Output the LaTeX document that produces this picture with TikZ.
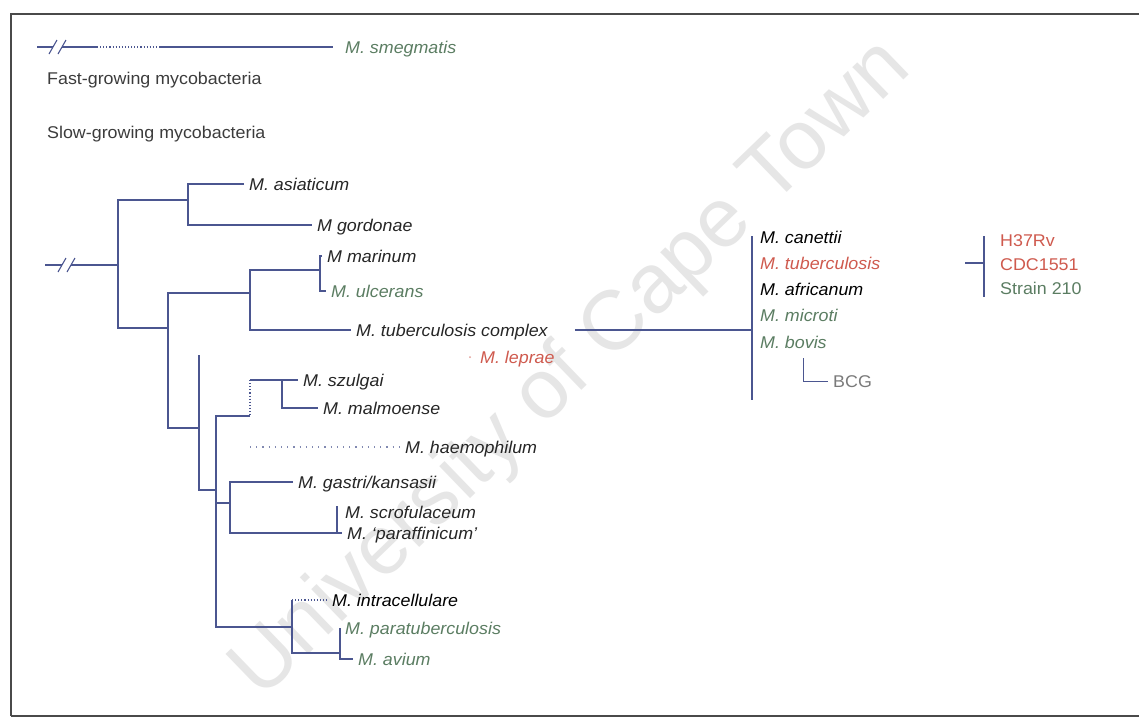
\documentclass[tikz,border=0pt]{standalone}
\usepackage{fontspec}
\setmainfont{Liberation Sans}[FakeStretch=1.05]
\newfontfamily\wmfont{Liberation Sans}
\definecolor{brc}{HTML}{4B5690}
\definecolor{ink}{HTML}{262626}
\definecolor{grn}{HTML}{5B7D62}
\definecolor{rd}{HTML}{CF5A4E}
\definecolor{frm}{HTML}{4A4A4A}
\definecolor{wmc}{HTML}{E6E6E6}
\definecolor{bcgc}{HTML}{7A7A7A}
\begin{document}
\begin{tikzpicture}[x=1pt,y=-1pt,
  br/.style={draw=brc, line width=1.3pt},
  dotln/.style={draw=brc, line width=1.1pt, dotted},
  sparse/.style={draw=brc!70, line width=1.1pt, dash pattern=on 1.2pt off 5pt},
  brk/.style={draw=brc, line width=1.1pt},
  sp/.style={anchor=west, inner xsep=5pt, inner ysep=0pt, text height=12pt, text depth=0pt,
             font=\fontsize{17}{20}\selectfont\itshape, text=ink},
  hd/.style={sp, font=\fontsize{17}{20}\selectfont, text=ink!90},
  up/.style={sp, font=\fontsize{17}{20}\selectfont},
  gr/.style={text=grn}, rdt/.style={text=rd}, bk/.style={text=black}]

\useasboundingbox (0,0) rectangle (1139,718);
\fill[white] (0,0) rectangle (1139,718);

% watermark
\node[rotate=44, text=wmc, font=\wmfont\fontsize{84}{94}\selectfont, inner sep=0pt] (wm) at (572,370) {University of Cape Town};

% frame
\draw[frm, line width=1.5pt] (11,716) -- (11,14) -- (1139,14);
\draw[frm, line width=1.2pt] (11,716) -- (1139,716);

% fast-growing
\node[sp,gr] (smeg) at (340,47) {M. smegmatis};
\coordinate (s0) at (37,47);
\coordinate (s1) at (53,47);
\coordinate (s2) at (62,47);
\coordinate (s3) at (97,47);
\coordinate (s4) at (160,47);
\draw[br] (s0) -- (s1);
\draw[brk] ([shift={(-4,7)}]s1) -- ([shift={(4,-7)}]s1);
\draw[brk] ([shift={(-4,7)}]s2) -- ([shift={(4,-7)}]s2);
\draw[br] (s2) -- (s3);
\draw[dotln] (s3) -- (s4);
\draw[br, shorten >=7pt] (s4) -- (smeg.west);

\node[hd] (fast) at (42,78) {Fast-growing mycobacteria};
\node[hd] (slow) at (42,132) {Slow-growing mycobacteria};

% tree coordinates
\coordinate (r0) at (45,265);
\coordinate (r1) at (62,265);
\coordinate (r2) at (71,265);
\coordinate (rJ) at (118,265);
\coordinate (aJ) at (188,200);
\coordinate (bJ) at (168,328);
\coordinate (cJ) at (250,293);
\coordinate (eJ) at (320,270);
\coordinate (dJ) at (199,428);
\coordinate (dTop) at (199,355);
\coordinate (fJ) at (216,490);
\coordinate (gJ) at (250,416);
\coordinate (gT) at (250,380);
\coordinate (hJ) at (282,380);
\coordinate (iJ) at (230,503);
\coordinate (jT) at (337,506);
\coordinate (kJ) at (292,627);
\coordinate (kT) at (292,600);
\coordinate (lJ) at (340,653);
\coordinate (hm0) at (250,447);

% species nodes
\node[sp] (asi) at (244,184) {M. asiaticum};
\node[sp] (gor) at (312,225) {M gordonae};
\node[sp] (mar) at (322,256) {M marinum};
\node[sp,gr] (ulc) at (326,291) {M. ulcerans};
\node[sp] (tbc) at (351,330) {M. tuberculosis complex};
\node[sp,rdt] (lep) at (475,357) {M. leprae};
\node[sp] (szu) at (298,380) {M. szulgai};
\node[sp] (mal) at (318,408) {M. malmoense};
\node[sp] (hae) at (400,447) {M. haemophilum};
\node[sp] (gas) at (293,482) {M. gastri/kansasii};
\node[sp] (scr) at (340,512) {M. scrofulaceum};
\node[sp] (par) at (342,533) {M. `paraffinicum'};
\node[sp,bk] (int) at (327,600) {M. intracellulare};
\node[sp,gr] (ptb) at (340,628) {M. paratuberculosis};
\node[sp,gr] (avi) at (353,659) {M. avium};
\fill[rd!60] (470,357) circle (1pt);

% root with break
\draw[br] (r0) -- (r1);
\draw[brk] ([shift={(-4,7)}]r1) -- ([shift={(4,-7)}]r1);
\draw[brk] ([shift={(-4,7)}]r2) -- ([shift={(4,-7)}]r2);
\draw[br] (r2) -- (rJ);

% tree edges
\draw[br] (asi.west) -| (aJ) |- (gor.west);
\draw[br] (aJ) -| (rJ) |- (bJ);
\draw[br] (cJ) -| (bJ) |- (dJ);
\draw[br] (eJ) -| (cJ) |- (tbc.west);
\draw[br] (mar.west) -| (eJ) |- (ulc.west);
\draw[br] (dTop) |- (fJ);
\draw[br] (gJ) -| (fJ) |- (kJ);
\draw[dotln] (gT) -- (gJ);
\draw[br] (gT) -- (szu.west);
\draw[br] (hJ) |- (mal.west);
\draw[sparse] (hm0) -- (hae.west);
\draw[br] (gas.west) -| (iJ) |- (jT |- par.west);
\draw[br] (iJ) -- (iJ -| fJ);
\draw[br] (jT) |- (par.west);
\draw[br] (kT) |- (lJ);
\draw[dotln] (kT) -- (int.west);
\draw[br] (ptb.west) -| (lJ) |- (avi.west);

% M. tuberculosis complex members
\coordinate (vT) at (752,236);
\coordinate (vM) at (752,330);
\coordinate (vB) at (752,400);
\draw[br] (vT) -- (vB);
\draw[br, shorten <=22pt] (tbc.east) -- (vM);

\node[sp,bk] (can) at (755,237) {M. canettii};
\node[sp,rdt] (mtb) at (755,263) {M. tuberculosis};
\node[sp,bk] (afr) at (755,289) {M. africanum};
\node[sp,gr] (mic) at (755,315) {M. microti};
\node[sp,gr] (bov) at (755,342) {M. bovis};

\coordinate (bcT) at (803,358);
\node[up,text=bcgc] (bcg) at (828,381) {BCG};
\draw[br, line width=1pt] (bcT) |- (bcg.west);

% strains
\coordinate (sT) at (984,236);
\coordinate (sM) at (984,263);
\coordinate (sB) at (984,297);
\draw[br] (sT) -- (sB);
\draw[br, shorten <=80pt] (mtb.east) -- (sM);
\node[up,rdt] (h37) at (995,240) {H37Rv};
\node[up,rdt] (cdc) at (995,264) {CDC1551};
\node[up,gr] (s210) at (995,288) {Strain 210};
\end{tikzpicture}
\end{document}
